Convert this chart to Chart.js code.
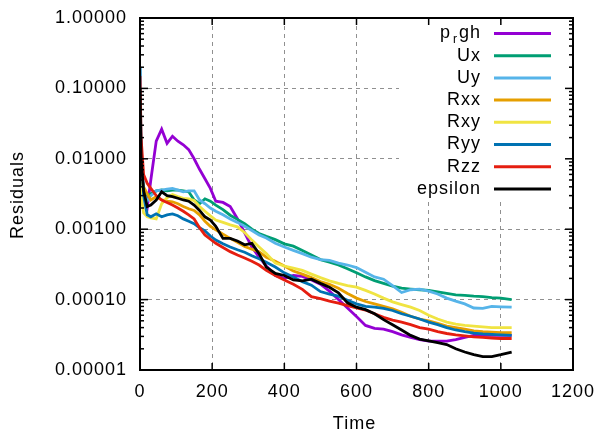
<!DOCTYPE html>
<html>
<head>
<meta charset="utf-8">
<script src="https://cdn.jsdelivr.net/npm/chart.js@4.4.0/dist/chart.umd.min.js"></script>
<style>
  html, body { margin: 0; padding: 0; background: #fff; }
</style>
</head>
<body>
<canvas id="residuals" width="598" height="432"></canvas>
<script>
// sample times of the residual log
const times = [0, 3, 10, 20, 30, 45, 60, 75, 90, 105, 120, 135, 150, 165, 180, 195, 210, 230, 250, 270,
  290, 310, 330, 350, 375, 400, 425, 450, 475, 500, 525, 550, 575, 600, 625, 650, 675, 700, 725, 750,
  775, 800, 825, 850, 875, 900, 925, 950, 975, 1000, 1030];

const pRgh = [0.05, 0.01, 3.2e-3, 2.0e-3, 5.0e-3, 0.0178, 0.0263, 0.0166, 0.0209, 0.0178,
  0.0158, 0.0135, 0.0100, 7.1e-3, 5.2e-3, 3.8e-3, 2.5e-3, 2.4e-3, 2.1e-3, 1.41e-3,
  8.9e-4, 5.6e-4, 4.0e-4, 3.0e-4, 2.2e-4, 2.0e-4, 2.2e-4, 2.14e-4, 1.9e-4, 1.66e-4,
  1.32e-4, 1.0e-4, 7.6e-5, 5.75e-5, 4.3e-5, 3.9e-5, 3.8e-5, 3.5e-5, 3.16e-5, 2.9e-5,
  2.7e-5, 2.57e-5, 2.57e-5, 2.57e-5, 2.7e-5, 2.9e-5, 3.1e-5, 3.1e-5, 3.1e-5, 3.1e-5, 3.1e-5];

const ux = [0.1, 8e-3, 3.5e-3, 3.0e-3, 3.2e-3, 3.5e-3, 3.6e-3, 3.5e-3, 3.6e-3, 3.6e-3,
  3.5e-3, 3.4e-3, 2.6e-3, 2.3e-3, 2.7e-3, 2.5e-3, 2.2e-3, 1.9e-3, 1.58e-3, 1.38e-3,
  1.2e-3, 1.0e-3, 8.7e-4, 7.9e-4, 7.1e-4, 6.2e-4, 5.75e-4, 5.0e-4, 4.3e-4, 3.7e-4,
  3.4e-4, 3.1e-4, 2.75e-4, 2.4e-4, 2.1e-4, 1.86e-4, 1.7e-4, 1.55e-4, 1.45e-4, 1.41e-4,
  1.38e-4, 1.35e-4, 1.29e-4, 1.23e-4, 1.17e-4, 1.15e-4, 1.12e-4, 1.10e-4, 1.07e-4, 1.05e-4, 1.0e-4];

const uy = [0.2, 0.01, 3.2e-3, 2.5e-3, 3.0e-3, 3.5e-3, 3.6e-3, 3.7e-3, 3.8e-3, 3.6e-3,
  3.4e-3, 3.5e-3, 3.5e-3, 2.6e-3, 2.3e-3, 2.0e-3, 1.8e-3, 1.6e-3, 1.4e-3, 1.25e-3,
  1.1e-3, 9.6e-4, 8.3e-4, 7.5e-4, 6.3e-4, 5.6e-4, 5.0e-4, 4.5e-4, 4.0e-4, 3.7e-4,
  3.6e-4, 3.3e-4, 3.1e-4, 2.85e-4, 2.45e-4, 2.1e-4, 1.95e-4, 1.58e-4, 1.26e-4, 1.38e-4,
  1.41e-4, 1.32e-4, 1.2e-4, 1.05e-4, 9.5e-5, 8.7e-5, 7.6e-5, 7.5e-5, 8.0e-5, 7.9e-5, 7.8e-5];

const rxx = [0.01, 6e-3, 4e-3, 3.2e-3, 2.6e-3, 2.9e-3, 2.6e-3, 2.5e-3, 2.45e-3, 2.3e-3,
  2.1e-3, 1.95e-3, 1.85e-3, 1.6e-3, 1.3e-3, 1.1e-3, 9.8e-4, 8.5e-4, 7.4e-4, 6.5e-4,
  5.7e-4, 5.2e-4, 4.8e-4, 4.0e-4, 3.5e-4, 3.0e-4, 2.55e-4, 2.3e-4, 2.05e-4, 1.8e-4,
  1.65e-4, 1.45e-4, 1.22e-4, 1.05e-4, 9.4e-5, 8.7e-5, 8.0e-5, 7.4e-5, 6.6e-5, 5.8e-5,
  5.3e-5, 5.0e-5, 4.6e-5, 4.2e-5, 4.0e-5, 3.8e-5, 3.6e-5, 3.5e-5, 3.45e-5, 3.4e-5, 3.4e-5];

const rxy = [6e-3, 3e-3, 1.7e-3, 1.5e-3, 1.45e-3, 1.4e-3, 2.3e-3, 2.8e-3, 3.1e-3, 2.9e-3,
  2.75e-3, 2.7e-3, 2.55e-3, 2.1e-3, 1.8e-3, 1.55e-3, 1.35e-3, 1.25e-3, 1.15e-3, 1.08e-3,
  9.0e-4, 7.0e-4, 5.6e-4, 4.5e-4, 3.3e-4, 3.0e-4, 2.8e-4, 2.6e-4, 2.3e-4, 2.05e-4,
  1.85e-4, 1.7e-4, 1.58e-4, 1.5e-4, 1.35e-4, 1.2e-4, 1.05e-4, 9.3e-5, 8.5e-5, 7.8e-5,
  7.0e-5, 6.0e-5, 5.3e-5, 4.8e-5, 4.5e-5, 4.3e-5, 4.2e-5, 4.1e-5, 4.0e-5, 4.0e-5, 4.0e-5];

const ryy = [0.2, 0.015, 3e-3, 1.6e-3, 1.5e-3, 1.65e-3, 1.5e-3, 1.6e-3, 1.65e-3, 1.55e-3,
  1.4e-3, 1.3e-3, 1.2e-3, 1.05e-3, 9.5e-4, 8.0e-4, 7.0e-4, 6.2e-4, 5.6e-4, 5.1e-4,
  4.7e-4, 4.2e-4, 3.8e-4, 3.4e-4, 2.9e-4, 2.4e-4, 2.1e-4, 1.8e-4, 1.6e-4, 1.3e-4,
  1.2e-4, 1.12e-4, 9.8e-5, 8.7e-5, 8.0e-5, 7.8e-5, 7.5e-5, 7.0e-5, 6.3e-5, 5.8e-5,
  5.3e-5, 4.8e-5, 4.4e-5, 4.0e-5, 3.7e-5, 3.5e-5, 3.35e-5, 3.25e-5, 3.2e-5, 3.15e-5, 3.1e-5];

const rzz = [0.15, 0.02, 6e-3, 4.5e-3, 3.8e-3, 3.0e-3, 2.6e-3, 2.4e-3, 2.2e-3, 2.0e-3,
  1.8e-3, 1.6e-3, 1.4e-3, 1.05e-3, 8.3e-4, 7.2e-4, 6.3e-4, 5.5e-4, 4.8e-4, 4.3e-4,
  3.9e-4, 3.5e-4, 3.1e-4, 2.6e-4, 2.2e-4, 1.9e-4, 1.65e-4, 1.4e-4, 1.1e-4, 1.03e-4,
  9.5e-5, 8.9e-5, 8.2e-5, 7.6e-5, 7.1e-5, 6.3e-5, 5.6e-5, 5.1e-5, 4.8e-5, 4.4e-5,
  4.0e-5, 3.8e-5, 3.5e-5, 3.3e-5, 3.15e-5, 3.05e-5, 2.95e-5, 2.9e-5, 2.85e-5, 2.8e-5, 2.8e-5];

const epsilon = [0.1, 0.01, 3.5e-3, 2.1e-3, 2.2e-3, 2.6e-3, 3.4e-3, 3.0e-3, 2.9e-3, 2.75e-3,
  2.6e-3, 2.5e-3, 2.2e-3, 1.85e-3, 1.5e-3, 1.35e-3, 1.1e-3, 7.4e-4, 7.4e-4, 6.8e-4,
  6.0e-4, 6.3e-4, 4.5e-4, 2.9e-4, 2.35e-4, 2.2e-4, 1.9e-4, 1.85e-4, 1.95e-4, 1.7e-4,
  1.5e-4, 1.25e-4, 9.0e-5, 7.8e-5, 7.2e-5, 6.3e-5, 5.2e-5, 4.4e-5, 3.7e-5, 3.1e-5,
  2.75e-5, 2.6e-5, 2.45e-5, 2.3e-5, 2.0e-5, 1.8e-5, 1.65e-5, 1.55e-5, 1.55e-5, 1.65e-5, 1.8e-5];

const seriesNames = ['p_rgh', 'Ux', 'Uy', 'Rxx', 'Rxy', 'Ryy', 'Rzz', 'epsilon'];
const seriesValues = [pRgh, ux, uy, rxx, rxy, ryy, rzz, epsilon];
const seriesColors = ['#9400d3', '#009e73', '#56b4e9', '#e69f00', '#f0e442', '#0072b2', '#e51e10', '#000000'];

const xTicks = [0, 200, 400, 600, 800, 1000, 1200];
const yTicks = [1, 0.1, 0.01, 0.001, 0.0001, 0.00001];

const FONT = '"Liberation Sans", Arial, sans-serif';
Chart.defaults.font.family = FONT;
Chart.defaults.font.size = 18;
Chart.defaults.color = '#000';

// gnuplot-like frame: inward ticks on all sides, opaque key box, axis titles
const gnuplotFrame = {
  id: 'gnuplotFrame',
  beforeDraw(chart) {
    // gnuplot's cairo text is a little wider than canvas text
    chart.ctx.letterSpacing = '1px';
  },
  beforeDatasetsDraw(chart) {
    const { ctx, chartArea: a } = chart;
    ctx.save();
    ctx.fillStyle = '#fff';
    ctx.fillRect(a.right - 174, a.top + 3, 172, 180);
    ctx.restore();
  },
  afterDraw(chart) {
    const { ctx, chartArea: a } = chart;
    const x = chart.scales.x;
    const y = chart.scales.y;
    ctx.save();
    ctx.letterSpacing = '1px';

    // key
    ctx.font = '18px ' + FONT;
    ctx.textBaseline = 'middle';
    ctx.textAlign = 'right';
    const textRight = a.right - 92;
    seriesNames.forEach((name, i) => {
      const ry = a.top + 15.5 + i * 22.2;
      ctx.fillStyle = '#000';
      if (name === 'p_rgh') {
        ctx.font = '18px ' + FONT;
        ctx.fillText('gh', textRight, ry);
        const w = ctx.measureText('gh').width;
        ctx.font = '12px ' + FONT;
        ctx.fillText('r', textRight - w - 1, ry + 6);
        const wr = ctx.measureText('r').width;
        ctx.font = '18px ' + FONT;
        ctx.fillText('p', textRight - w - wr - 3, ry);
      } else {
        ctx.fillText(name, textRight, ry);
      }
      ctx.strokeStyle = seriesColors[i];
      ctx.lineWidth = 3;
      ctx.beginPath();
      ctx.moveTo(a.right - 79, ry);
      ctx.lineTo(a.right - 22, ry);
      ctx.stroke();
    });

    // ticks
    ctx.strokeStyle = '#000';
    ctx.lineWidth = 1.5;
    const seg = (x1, y1, x2, y2) => {
      ctx.beginPath();
      ctx.moveTo(x1, y1);
      ctx.lineTo(x2, y2);
      ctx.stroke();
    };
    xTicks.forEach(v => {
      const px = x.getPixelForValue(v);
      seg(px, a.bottom, px, a.bottom - 7);
      seg(px, a.top, px, a.top + 7);
    });
    for (let e = -5; e <= 0; e++) {
      for (let k = 1; k <= 9; k++) {
        const v = k * Math.pow(10, e);
        if (v > 1) break;
        const len = k === 1 ? 8 : 4;
        const py = y.getPixelForValue(v);
        seg(a.left, py, a.left + len, py);
        seg(a.right, py, a.right - len, py);
      }
    }

    // border
    ctx.lineWidth = 2;
    ctx.strokeRect(a.left, a.top, a.right - a.left, a.bottom - a.top);

    // axis titles
    ctx.fillStyle = '#000';
    ctx.font = '18px ' + FONT;
    ctx.textAlign = 'center';
    ctx.textBaseline = 'middle';
    ctx.fillText('Time', (a.left + a.right) / 2 - 2, a.bottom + 54);
    ctx.translate(18, (a.top + a.bottom) / 2 + 1);
    ctx.rotate(-Math.PI / 2);
    ctx.fillText('Residuals', 0, 0);
    ctx.restore();
  },
};

const datasets = seriesNames.map((name, i) => ({
  label: name,
  data: times.map((t, j) => ({ x: t, y: seriesValues[i][j] })),
  borderColor: seriesColors[i],
  borderWidth: 2.8,
  pointRadius: 0,
  fill: false,
  tension: 0,
  order: seriesNames.length - 1 - i,
}));

const gridOpts = { color: '#909090', lineWidth: 1, drawTicks: false };
const borderOpts = { display: false, dash: [4, 4] };

// eslint-disable-next-line no-new
new Chart('residuals', {
  type: 'line',
  data: { datasets },
  options: {
    responsive: false,
    animation: false,
    devicePixelRatio: 1,
    layout: { padding: { left: 0, right: 25, top: 18, bottom: 0 } },
    plugins: { legend: { display: false }, tooltip: { enabled: false } },
    scales: {
      x: {
        type: 'linear',
        min: 0,
        max: 1200,
        grid: gridOpts,
        border: borderOpts,
        afterBuildTicks: scale => { scale.ticks = xTicks.map(v => ({ value: v })); },
        afterFit: scale => {
          scale.height = 62;
          scale.paddingLeft = 0;
          scale.paddingRight = 0;
        },
        ticks: {
          autoSkip: false,
          maxRotation: 0,
          padding: 11,
          font: { size: 18 },
          callback: value => String(value),
        },
      },
      y: {
        type: 'logarithmic',
        min: 0.00001,
        max: 1,
        grid: gridOpts,
        border: borderOpts,
        afterBuildTicks: scale => { scale.ticks = yTicks.map(v => ({ value: v })); },
        afterFit: scale => {
          scale.width = 140;
          scale.paddingTop = 0;
          scale.paddingBottom = 0;
        },
        ticks: {
          autoSkip: false,
          padding: 13,
          font: { size: 18 },
          callback: value => Number(value).toFixed(5),
        },
      },
    },
  },
  plugins: [gnuplotFrame],
});
</script>
</body>
</html>
